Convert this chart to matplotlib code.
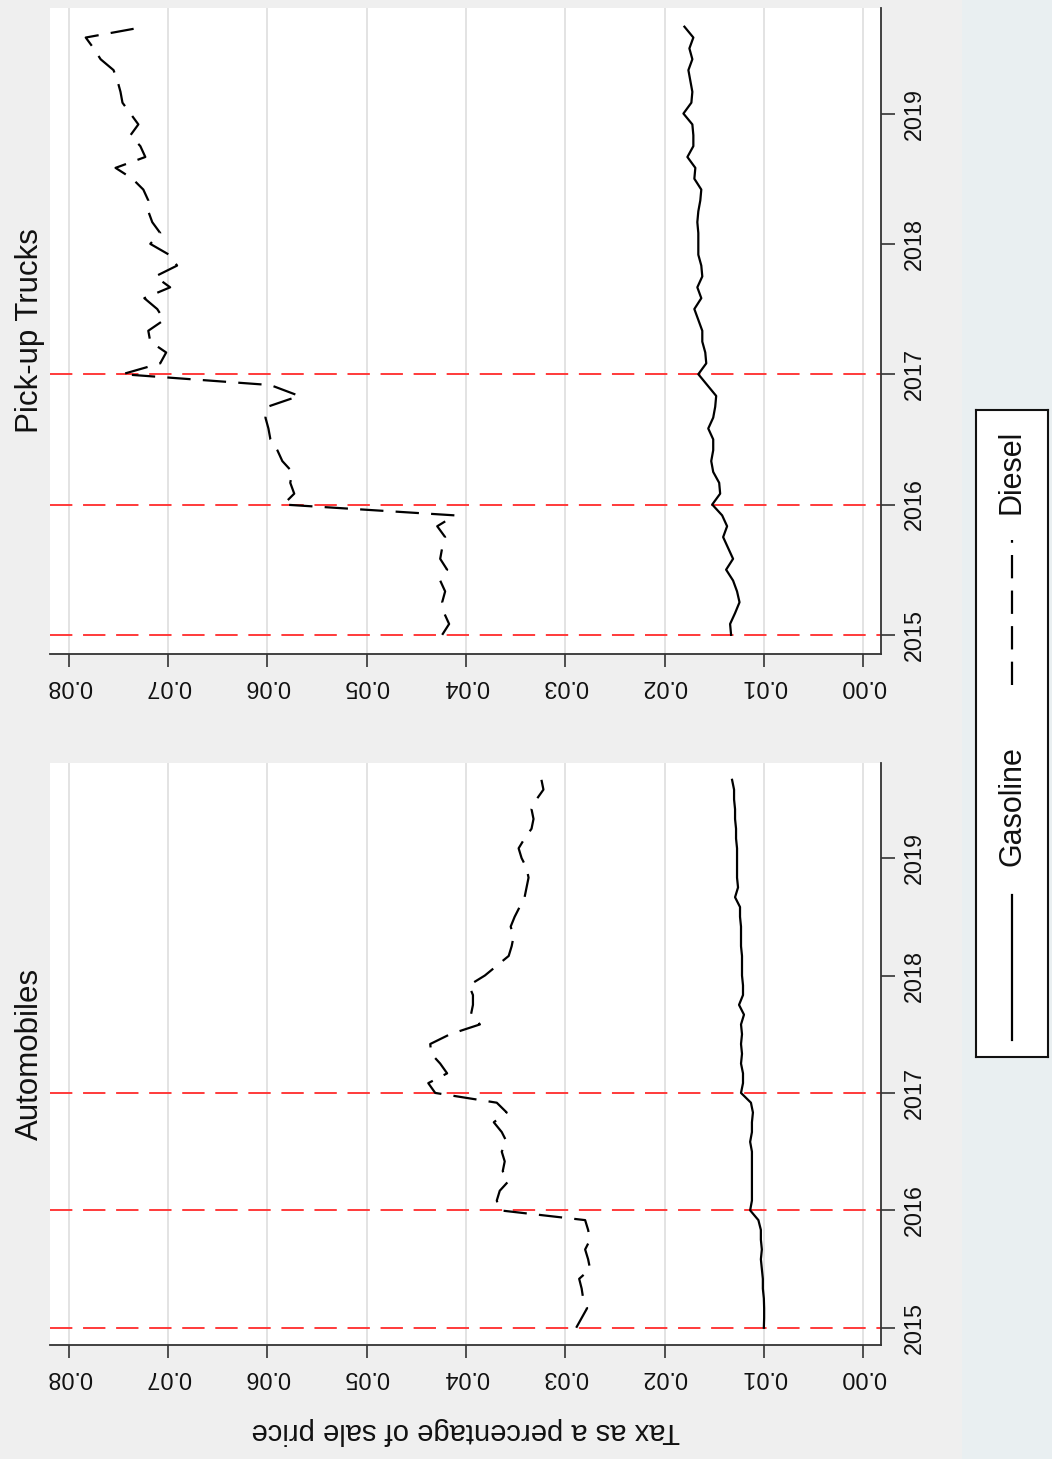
import matplotlib.pyplot as plt
import numpy as np
from matplotlib.lines import Line2D
from matplotlib.patches import Rectangle

plt.rcParams['font.family'] = ['Liberation Sans', 'DejaVu Sans']

# monthly series, 2015m1 .. 2019m9
truck_diesel = [0.0424, 0.0417, 0.0422, 0.0424, 0.0421, 0.0426, 0.0419, 0.0426, 0.0424, 0.0421, 0.0429, 0.0411,
                0.0584, 0.0573, 0.0577, 0.0575, 0.0585, 0.0590, 0.0597, 0.0599, 0.0602, 0.0600, 0.0568, 0.0597,
                0.0746, 0.0708, 0.0702, 0.0718, 0.0720, 0.0704, 0.0711, 0.0724, 0.0698, 0.0713, 0.0691, 0.0699,
                0.0718, 0.0708, 0.0716, 0.0720, 0.0720, 0.0725, 0.0736, 0.0753, 0.0723, 0.0728, 0.0738, 0.0730,
                0.0738, 0.0746, 0.0748, 0.0751, 0.0755, 0.0768, 0.0775, 0.0783, 0.0723]
truck_gas = [0.0133, 0.0134, 0.0129, 0.01245, 0.0127, 0.0131, 0.0138, 0.0131, 0.0136, 0.0141, 0.0137, 0.0142,
             0.0152, 0.0144, 0.0145, 0.0151, 0.0153, 0.0151, 0.0151, 0.0156, 0.0151, 0.0149, 0.0148, 0.0157,
             0.0166, 0.0158, 0.0159, 0.0162, 0.0162, 0.0166, 0.0170, 0.0163, 0.0167, 0.0162, 0.0163, 0.0166,
             0.0166, 0.0166, 0.0167, 0.0166, 0.0164, 0.0163, 0.0170, 0.0169, 0.0177, 0.0171, 0.0171, 0.0172,
             0.0181, 0.0173, 0.0172, 0.0174, 0.0176, 0.0172, 0.0175, 0.0171, 0.0180]
auto_diesel = [0.0289, 0.02835, 0.0278, 0.0282, 0.02835, 0.0286, 0.0275, 0.0277, 0.0280, 0.0275, 0.0277, 0.0280,
               0.0366, 0.0369, 0.0366, 0.0357, 0.0363, 0.0361, 0.0364, 0.0359, 0.0364, 0.0372, 0.0359, 0.0369,
               0.0431, 0.0438, 0.0419, 0.0426, 0.0435, 0.0436, 0.0416, 0.0386, 0.0395, 0.0393, 0.0393, 0.0397,
               0.0381, 0.0369, 0.0357, 0.0354, 0.0352, 0.0355, 0.0351, 0.0346, 0.0341, 0.0339, 0.0337, 0.0339,
               0.0344, 0.0347, 0.0341, 0.0334, 0.0332, 0.0334, 0.0329, 0.0322, 0.0324]
auto_gas = [0.0100, 0.00997, 0.00997, 0.0100, 0.0101, 0.0101, 0.0102, 0.0103, 0.0102, 0.0103, 0.0103, 0.01055,
            0.01138, 0.0112, 0.0112, 0.0112, 0.0112, 0.0112, 0.0112, 0.01138, 0.0112, 0.0112, 0.0111, 0.0113,
            0.0123, 0.0121, 0.0121, 0.0123, 0.0122, 0.0123, 0.0122, 0.0123, 0.0120, 0.0125, 0.0121, 0.0121,
            0.0122, 0.0122, 0.0122, 0.0123, 0.0123, 0.0123, 0.0124, 0.0124, 0.0129, 0.0126, 0.0127, 0.0127,
            0.0127, 0.0127, 0.0128, 0.0128, 0.0129, 0.0129, 0.0130, 0.0130, 0.0132]

t = 2015 + np.arange(len(auto_gas)) / 12
policy_years = [2015, 2016, 2017]
year_ticks = [2015, 2016, 2017, 2018, 2019]
tax_ticks = [0.00, 0.01, 0.02, 0.03, 0.04, 0.05, 0.06, 0.07, 0.08]

W, H = 1052, 1459
fig = plt.figure(figsize=(W / 100, H / 100), dpi=100)
fig.patch.set_facecolor('#e9eff1')
fig.patches.append(Rectangle((0, 0), 962 / W, 1, transform=fig.transFigure,
                             facecolor='#efefef', edgecolor='none', zorder=-5))

DASH = (10.5, 5.5)


def panel(rect, gas, diesel, title):
    ax = fig.add_axes(rect)
    ax.set_facecolor('white')
    for yr in policy_years:
        ax.axhline(yr, color='#ff3a3a', lw=1.4, dashes=(11.5, 5.5), zorder=2)
    ax.plot(gas, t, color='black', lw=1.6, zorder=3)
    ax.plot(diesel, t, color='black', lw=1.6, dashes=DASH, zorder=3)
    ax.set_xlim(0.0819, -0.0018)
    ax.set_ylim(2014.853, 2019.81)
    ax.set_xticks(tax_ticks)
    ax.set_xticklabels(['%.2f' % v for v in tax_ticks])
    ax.set_yticks(year_ticks)
    ax.set_yticklabels([str(y) for y in year_ticks])
    ax.grid(axis='x', color='#e3e3e3', lw=1.4, zorder=1)
    ax.set_axisbelow(True)
    for s in ['top', 'left']:
        ax.spines[s].set_visible(False)
    for s in ['bottom', 'right']:
        ax.spines[s].set_color('#333333')
        ax.spines[s].set_linewidth(1.3)
    ax.tick_params(axis='x', direction='out', length=9, width=1.2, color='#333333',
                   labelsize=16.8, labelrotation=180, pad=6, labelcolor='#111111')
    ax.tick_params(axis='y', left=False, labelleft=False, right=True, labelright=True,
                   direction='out', length=10, width=1.2, color='#333333',
                   labelsize=16.8, labelrotation=90, pad=6, labelcolor='#111111')
    for lab in ax.get_yticklabels():
        lab.set_va('center')
    ax.text(-0.024, 0.5, title, transform=ax.transAxes, rotation=90,
            ha='center', va='center', fontsize=22.5, color='#111111')
    return ax


ax1 = panel([50 / W, 1 - 654 / H, 831 / W, 646 / H], truck_gas, truck_diesel, 'Pick-up Trucks')
ax2 = panel([50 / W, 1 - 1345 / H, 831 / W, 582 / H], auto_gas, auto_diesel, 'Automobiles')
ax2.set_xlabel('Tax as a percentage of sale price', fontsize=21, rotation=180,
               labelpad=20, color='#111111')

# legend box (rotated layout)
lg = fig.add_axes([976 / W, 1 - 1057 / H, 72 / W, 647 / H])
lg.set_facecolor('white')
lg.set_xlim(0, 1)
lg.set_ylim(0, 1)
lg.set_xticks([])
lg.set_yticks([])
for s in lg.spines.values():
    s.set_color('#111111')
    s.set_linewidth(1.5)
lg.add_line(Line2D([0.5, 0.5], [0.026, 0.25], color='black', lw=1.6))
lg.text(0.5, 0.388, 'Gasoline', rotation=90, ha='center', va='center', fontsize=22, color='#111111')
lg.add_line(Line2D([0.5, 0.5], [0.575, 0.799], color='black', lw=1.6, dashes=DASH))
lg.text(0.5, 0.905, 'Diesel', rotation=90, ha='center', va='center', fontsize=22, color='#111111')

fig.savefig('out.png', dpi=100, facecolor=fig.get_facecolor())
